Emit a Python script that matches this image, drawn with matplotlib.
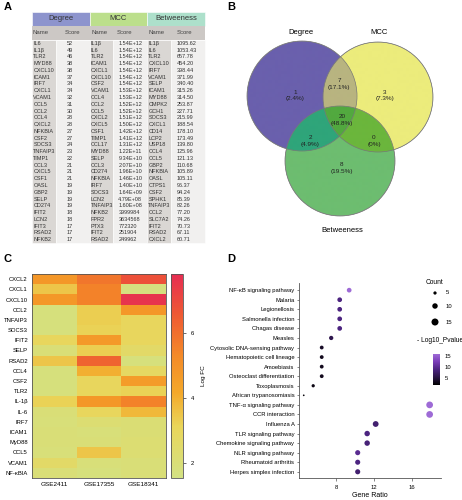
import numpy as np
import matplotlib.pyplot as plt
from matplotlib.colors import LinearSegmentedColormap, to_rgba
from matplotlib.patches import Rectangle, Circle

plt.rcParams['font.family'] = ['Liberation Sans', 'DejaVu Sans']

W, H = 462, 500

# ---- A: hub gene tables
deg_names = ["IL6", "IL1β", "TLR2", "MYD88", "CXCL10", "ICAM1", "IRF7", "CXCL1", "VCAM1", "CCL5",
             "CCL2", "CCL4", "CXCL2", "NFKBIA", "CSF2", "SOCS3", "TNFAIP3", "TIMP1", "CCL3", "CXCL5",
             "CSF1", "OASL", "GBP2", "SELP", "CD274", "IFIT2", "LCN2", "IFIT3", "RSAD2", "NFKB2"]
deg_scores = [52, 49, 46, 38, 38, 37, 34, 34, 32, 31, 30, 28, 28, 27, 27, 24, 23, 22, 21, 21,
              21, 19, 19, 19, 19, 18, 18, 17, 17, 17]
mcc_names = ["IL1β", "IL6", "TLR2", "ICAM1", "CXCL1", "CXCL10", "CSF2", "VCAM1", "CCL4", "CCL2",
             "CCL5", "CXCL2", "CXCL5", "CSF1", "TIMP1", "CCL17", "MYD88", "SELP", "CCL3", "CD274",
             "NFKBIA", "IRF7", "SOCS3", "LCN2", "TNFAIP3", "NFKB2", "FPR2", "PTX3", "IFIT2", "RSAD2"]
mcc_scores = ["1.54E+12", "1.54E+12", "1.54E+12", "1.54E+12", "1.54E+12", "1.54E+12", "1.54E+12",
              "1.53E+12", "1.53E+12", "1.52E+12", "1.52E+12", "1.51E+12", "1.50E+12", "1.42E+12",
              "1.41E+12", "1.31E+12", "1.22E+11", "9.34E+10", "2.07E+10", "1.96E+10", "1.46E+10",
              "1.40E+10", "1.64E+09", "4.79E+08", "1.60E+08", "3999984", "3634568", "772320",
              "251904", "249962"]
btw_names = ["IL1β", "IL6", "TLR2", "CXCL10", "IRF7", "VCAM1", "SELP", "ICAM1", "MYD88", "CMPK2",
             "GCH1", "SOCS3", "CXCL1", "CD14", "LCP2", "USP18", "CCL4", "CCL5", "GBP2", "NFKBIA",
             "OASL", "CTPS1", "CSF2", "SPHK1", "TNFAIP3", "CCL2", "SLC7A2", "IFIT2", "RSAD2", "CXCL2"]
btw_scores = [1095.62, 1053.43, 657.78, 454.20, 398.44, 371.99, 340.40, 315.26, 314.50, 253.87,
              227.71, 215.99, 188.54, 178.10, 173.49, 139.80, 125.96, 121.13, 110.68, 105.89,
              105.11, 96.37, 94.24, 85.39, 82.26, 77.20, 74.26, 70.73, 67.11, 60.71]

# ---- B: venn counts
venn_sets = ["Degree", "MCC", "Betweeness"]
venn_regions = ["D", "DM", "M", "DMB", "DB", "MB", "B"]
venn_counts = [1, 7, 3, 20, 2, 0, 8]

# ---- C: log FC heatmap
heat_genes = ["CXCL2", "CXCL1", "CXCL10", "CCL2", "TNFAIP3", "SOCS3", "IFIT2", "SELP", "RSAD2", "CCL4",
              "CSF2", "TLR2", "IL-1β", "IL-6", "IRF7", "ICAM1", "MyD88", "CCL5", "VCAM1", "NF-κBIA"]
heat_sets = ["GSE2411", "GSE17355", "GSE18341"]
fc_gse2411 = [4.8, 3.5, 4.8, 1.8, 1.8, 1.8, 3.0, 2.0, 3.5, 1.8, 1.8, 1.8, 3.2, 2.0, 1.9, 2.0, 2.0, 1.9, 2.6, 2.0]
fc_gse17355 = [5.8, 5.5, 5.5, 3.3, 3.3, 3.2, 4.7, 3.3, 6.3, 4.0, 3.0, 3.0, 4.8, 3.0, 2.2, 1.9, 2.0, 3.5, 1.9, 1.8]
fc_gse18341 = [6.8, 1.7, 7.6, 4.8, 3.0, 3.0, 3.0, 2.6, 1.8, 2.8, 4.6, 3.2, 5.5, 3.8, 2.1, 2.1, 2.2, 2.2, 2.0, 2.0]

# ---- D: KEGG enrichment
pathways = ["NF-κB signaling pathway", "Malaria", "Legionellosis", "Salmonella infection", "Chagas disease",
            "Measles", "Cytosolic DNA-sensing pathway", "Hematopoietic cell lineage", "Amoebiasis",
            "Osteoclast differentiation", "Toxoplasmosis", "African trypanosomiasis", "TNF-α signaling pathway",
            "CCR interaction", "Influenza A", "TLR signaling pathway", "Chemokine signaling pathway",
            "NLR signaling pathway", "Rheumatoid arthritis", "Herpes simplex infection"]
gene_ratio = [9.4, 8.4, 8.4, 8.4, 8.4, 7.5, 6.5, 6.5, 6.5, 6.5, 5.6, 4.6, 17.9, 17.9, 12.2, 11.3, 11.3,
              10.3, 10.3, 10.3]
counts = [8, 8, 8, 8, 8, 7, 6, 6, 6, 6, 5, 3, 14, 14, 11, 10, 10, 9, 9, 9]
neglog_p = [17, 9, 9, 9, 9, 6, 4, 3.5, 3.5, 3.5, 3, 2.5, 16, 17.5, 8, 9, 8.5, 10, 9, 8]


def box(x, y, w, h):
    return [x / W, 1 - (y + h) / H, w / W, h / H]


def dot_size(c):
    return 1.5 + 2.0 * (np.asarray(c) - 3)


fig = plt.figure(figsize=(4.62, 5.0), dpi=100)
bg = fig.add_axes([0, 0, 1, 1])
bg.set_xlim(0, W)
bg.set_ylim(H, 0)
bg.axis('off')

for lab, x, y in [("A", 4, 7), ("B", 227, 7), ("C", 4, 259), ("D", 227, 259)]:
    bg.text(x, y, lab, fontsize=8, fontweight='bold', va='center', ha='left')

# table A
edges = [32, 56, 90, 113, 147, 171, 205]
head_cols = ["#8d94cd", "#bcdf8c", "#ade0cb"]
top, head_h, sub_h, body_bot = 11.7, 14, 14.3, 243
for i, (name, col) in enumerate(zip(venn_sets, head_cols)):
    x0, x1 = edges[2 * i], edges[2 * i + 2]
    bg.add_patch(Rectangle((x0, top), x1 - x0, head_h, fc=col, ec='white', lw=0.4))
    bg.text((x0 + x1) / 2, top + head_h / 2, name, fontsize=5.5, ha='center', va='center', color='#333333')
    bg.add_patch(Rectangle((x0, top + head_h), x1 - x0, sub_h, fc="#ccc8c5", ec='none'))
for j in range(6):
    fc = "#dad7d4" if j % 2 == 0 else "#f1f0ef"
    bg.add_patch(Rectangle((edges[j], top + head_h + sub_h), edges[j + 1] - edges[j],
                           body_bot - (top + head_h + sub_h), fc=fc, ec='white', lw=0.4))
sub_x = [32.7, 65, 91.7, 116.7, 148.3, 176.7]
for j, xs in enumerate(sub_x):
    bg.text(xs, top + head_h + sub_h / 2, "Name" if j % 2 == 0 else "Score", fontsize=4.3,
            ha='left', va='center', color='#444444')
body_top = top + head_h + sub_h
pitch = (body_bot - body_top) / len(deg_names)
name_x = [33.3, 90.7, 148.3]
score_x = [66.7, 118.3, 176.7]
cols = [(deg_names, [str(v) for v in deg_scores]), (mcc_names, mcc_scores),
        (btw_names, ["%.2f" % v for v in btw_scores])]
for k, (names, scores) in enumerate(cols):
    for r, (n, s) in enumerate(zip(names, scores)):
        yy = body_top + pitch * (r + 0.5)
        bg.text(name_x[k], yy, n, fontsize=4, ha='left', va='center', color='#333333')
        bg.text(score_x[k], yy, s, fontsize=4, ha='left', va='center', color='#333333')

# venn B: colour each region on a fine grid
rad = 55
centers = [(302, 96), (378, 97), (340, 161)]
region_col = {"D": "#6a60ad", "M": "#ecec7c", "B": "#6dbd70", "DM": "#b8b480",
              "DB": "#2fa57a", "MB": "#6bb63c", "DMB": "#52a93f"}
gx = np.linspace(240, 440, 801)
gy = np.linspace(36, 222, 745)
X, Y = np.meshgrid(gx, gy)
inside = [(X - cx) ** 2 + (Y - cy) ** 2 <= rad ** 2 for cx, cy in centers]
rgba = np.zeros(X.shape + (4,))
for key, col in region_col.items():
    m = np.ones(X.shape, bool)
    for letter, ins in zip("DMB", inside):
        m &= ins if letter in key else ~ins
    rgba[m] = to_rgba(col)
bg.imshow(rgba, extent=(gx[0], gx[-1], gy[-1], gy[0]), origin='upper', interpolation='antialiased', zorder=1)
bg.set_xlim(0, W)
bg.set_ylim(H, 0)
bg.set_aspect('auto')
for c in centers:
    bg.add_patch(Circle(c, rad, fc="none", ec="#777777", lw=0.5, zorder=2))
bg.text(301, 32, "Degree", fontsize=5.5, ha='center', va='center')
bg.text(379, 32, "MCC", fontsize=5.5, ha='center', va='center')
bg.text(342, 230, "Betweeness", fontsize=5.5, ha='center', va='center')
region_pos = {"D": (295, 95.5), "DM": (339, 84), "M": (385, 95.5), "DMB": (342, 120),
              "DB": (310, 141), "MB": (374, 141), "B": (342, 168)}
total = sum(venn_counts)
for reg, n in zip(venn_regions, venn_counts):
    pct = "%.1f%%" % (100 * n / total) if n else "0%"
    x, y = region_pos[reg]
    bg.text(x, y, "%d\n(%s)" % (n, pct), fontsize=4.6, ha='center', va='center',
            linespacing=1.35, color='#222222', zorder=3)

# heatmap C
fc_cmap = LinearSegmentedColormap.from_list("fc", [(0, '#d3e283'), (0.25, '#ead65a'), (0.42, '#f4a82a'),
                                                   (0.6, '#f48a28'), (0.8, '#ef5a33'), (1, '#e62d52')])
fc = np.column_stack([fc_gse2411, fc_gse17355, fc_gse18341])
axc = fig.add_axes(box(32, 274, 134, 204))
im = axc.imshow(fc, cmap=fc_cmap, vmin=1.55, vmax=7.8, aspect='auto', interpolation='nearest')
axc.set_yticks(range(len(heat_genes)))
axc.set_yticklabels(heat_genes, fontsize=4.2)
axc.set_xticks(range(3))
axc.set_xticklabels(heat_sets, fontsize=4.6)
axc.tick_params(length=0, pad=3)
for s in axc.spines.values():
    s.set_color('#555555')
    s.set_linewidth(0.6)
cax = fig.add_axes(box(171, 274, 12, 204))
cb = fig.colorbar(im, cax=cax, ticks=[2, 4, 6])
cb.ax.tick_params(labelsize=4.2, length=2, width=0.5, color='#333333')
cb.outline.set_edgecolor('#555555')
cb.outline.set_linewidth(0.6)
cb.set_label("Log FC", fontsize=4.6, labelpad=5)

# dot plot D
p_cmap = LinearSegmentedColormap.from_list("p", ['#000000', '#2a1545', '#4c2480', '#7a3cb8', '#9e6bd6'])
axd = fig.add_axes(box(299, 283, 142, 195))
axd.patch.set_visible(False)
yy = np.arange(len(pathways))
axd.scatter(gene_ratio, yy, s=dot_size(counts), c=neglog_p, cmap=p_cmap, vmin=2, vmax=16,
            edgecolors='none', zorder=3)
axd.set_ylim(19.65, -0.75)
axd.set_xlim(4.1, 19.1)
axd.set_yticks(yy)
axd.set_yticklabels(pathways, fontsize=3.8)
axd.set_xticks([8, 12, 16])
axd.tick_params(labelsize=4.2, length=1.8, width=0.5, color='#555555', pad=1.5)
axd.xaxis.set_tick_params(pad=3)
for side in ['top', 'right']:
    axd.spines[side].set_visible(False)
for side in ['left', 'bottom']:
    axd.spines[side].set_color('#555555')
    axd.spines[side].set_linewidth(0.6)
axd.set_xlabel("Gene Ratio", fontsize=5, labelpad=2)

# count legend
bg.text(434, 282, "Count", fontsize=4.8, ha='center', va='center')
leg_counts = [5, 10, 15]
leg_y = [293, 306, 322]
leg_sizes = dot_size(leg_counts)
bg.scatter([435] * 3, leg_y, s=leg_sizes, c='black', edgecolors='none')
for c, y in zip(leg_counts, leg_y):
    bg.text(446, y, str(c), fontsize=4.2, ha='left', va='center')
bg.text(440, 340, "- Log10_Pvalue", fontsize=4.8, ha='center', va='center')
pax = fig.add_axes(box(433, 354, 7, 31))
sm = plt.cm.ScalarMappable(cmap=p_cmap, norm=plt.Normalize(2, 16))
pcb = fig.colorbar(sm, cax=pax, ticks=[5, 10, 15])
pcb.outline.set_visible(False)
pcb.ax.tick_params(labelsize=4.2, length=1.5, width=0.5, color='white', pad=2)

fig.savefig("out.png", dpi=100)
